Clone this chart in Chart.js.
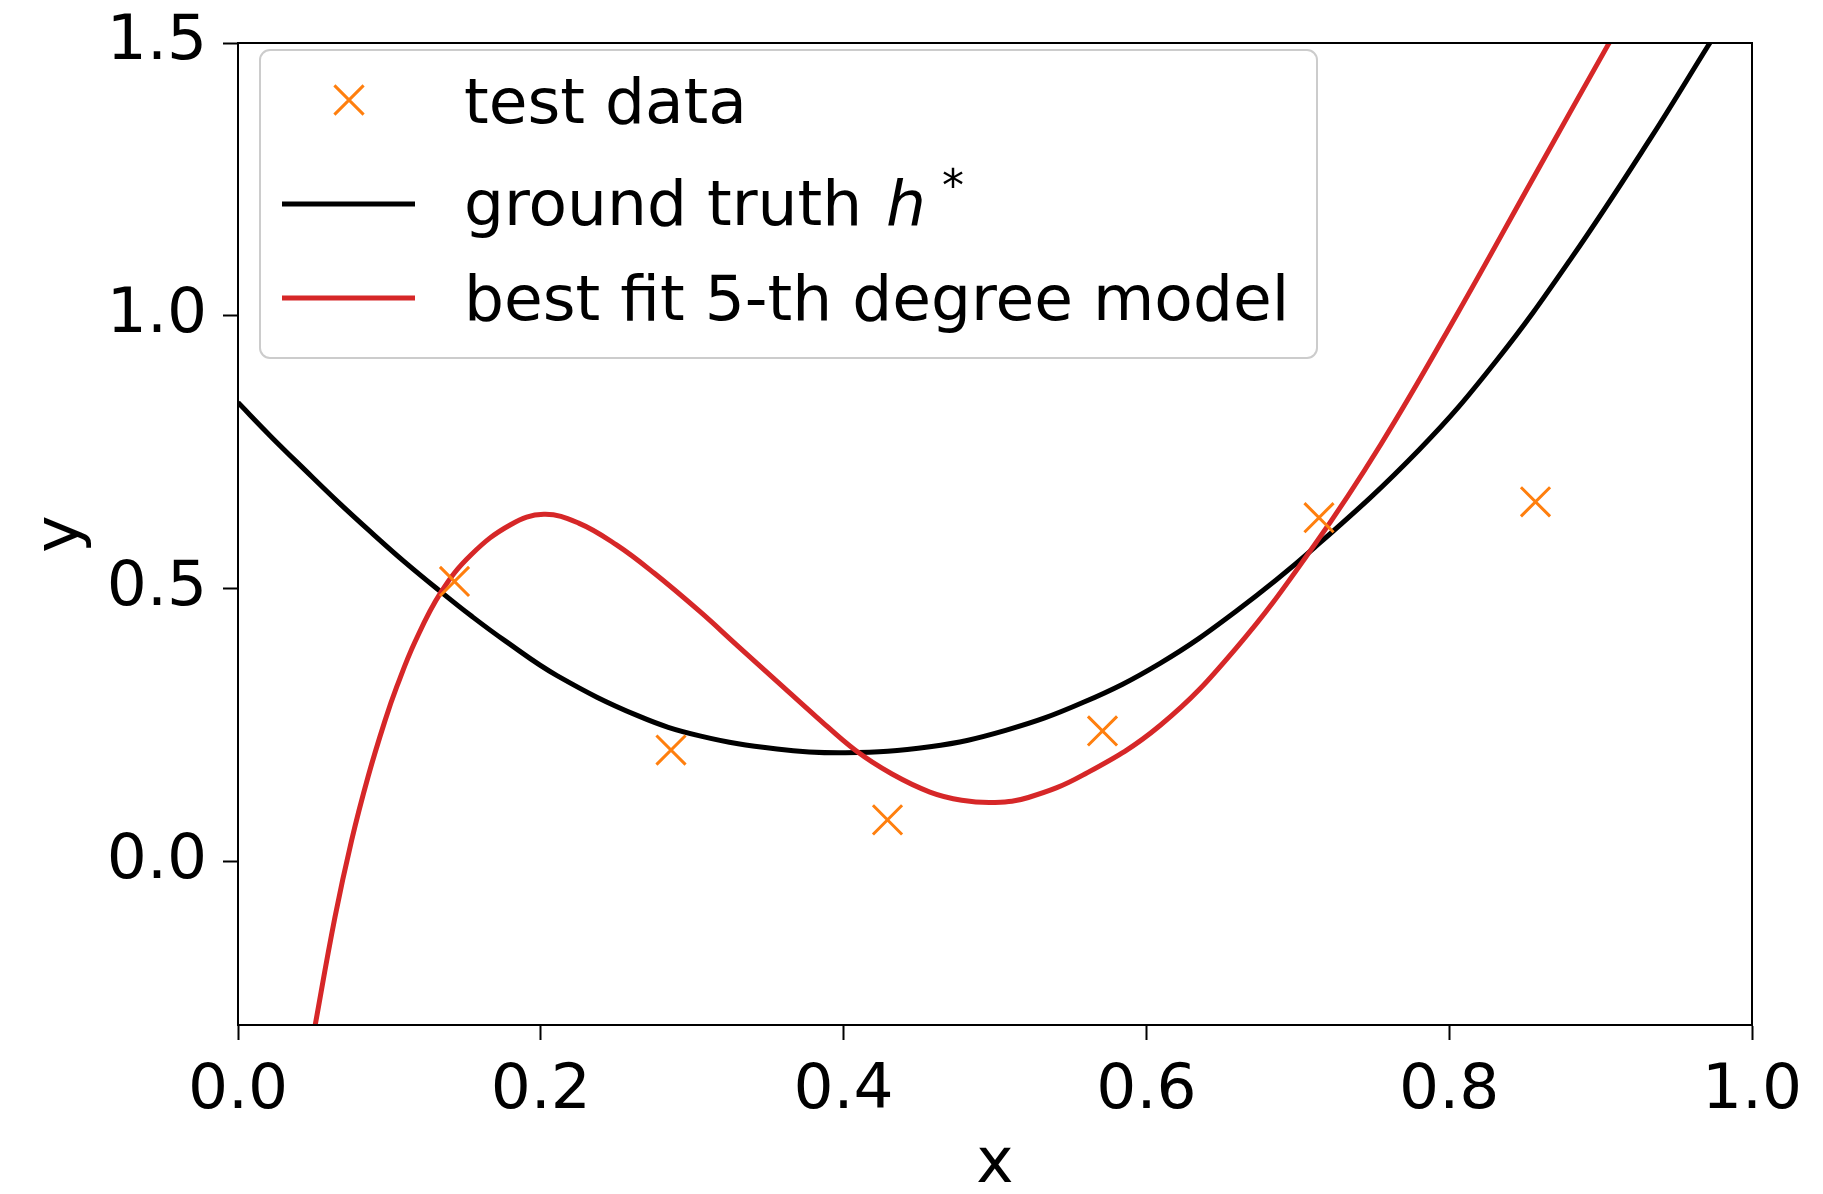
<!DOCTYPE html>
<html lang="en">
<head>
<meta charset="UTF-8">
<title>best fit 5-th degree model</title>
<style>
  body { margin: 0; background: #fff; }
  canvas { display: block; }
</style>
</head>
<body>
<script src="https://cdn.jsdelivr.net/npm/chart.js@4.4.0/dist/chart.umd.min.js"></script>
<canvas id="fit-chart" width="1823" height="1194"></canvas>
<script>
// test data (orange x markers)
const testX = [0.143, 0.286, 0.429, 0.571, 0.714, 0.857];
const testY = [0.513, 0.204, 0.076, 0.239, 0.630, 0.659];

// ground truth h* (black)
const truthX = [0.000, 0.022, 0.044, 0.066, 0.088, 0.110, 0.134, 0.154, 0.176, 0.211,
                0.264, 0.305, 0.356, 0.401, 0.457, 0.507, 0.558, 0.609, 0.659, 0.711,
                0.780, 0.831, 0.881, 0.932, 0.971, 0.980];
const truthY = [0.841, 0.778, 0.718, 0.659, 0.603, 0.549, 0.494, 0.450, 0.405, 0.340,
                0.267, 0.230, 0.206, 0.199, 0.210, 0.240, 0.291, 0.363, 0.458, 0.575,
                0.754, 0.917, 1.107, 1.321, 1.495, 1.535];

// best fit 5-th degree model (red)
const fitX = [0.045, 0.051, 0.064, 0.075, 0.086, 0.097, 0.105, 0.117, 0.134, 0.154,
              0.180, 0.202, 0.225, 0.250, 0.275, 0.305, 0.330, 0.356, 0.382, 0.408,
              0.432, 0.457, 0.478, 0.500, 0.522, 0.558, 0.609, 0.659, 0.711, 0.755,
              0.805, 0.856, 0.905, 0.915];
const fitY = [-0.395, -0.300, -0.103, 0.038, 0.156, 0.257, 0.321, 0.403, 0.493, 0.562,
              0.617, 0.636, 0.620, 0.580, 0.528, 0.458, 0.395, 0.330, 0.265, 0.203,
              0.160, 0.127, 0.112, 0.108, 0.117, 0.158, 0.249, 0.390, 0.580, 0.765,
              1.002, 1.255, 1.497, 1.545];

const xTicks = [0.0, 0.2, 0.4, 0.6, 0.8, 1.0];
const yTicks = [0.0, 0.5, 1.0, 1.5];

const FONT = '"DejaVu Sans"';
const FS = 63;

function toPoints(xs, ys) {
    return xs.map((x, i) => ({x: x, y: ys[i]}));
}

// top/right spines like a matplotlib box
const framePlugin = {
    id: 'frame',
    afterDatasetsDraw(chart) {
        const {ctx, chartArea: a} = chart;
        ctx.save();
        ctx.strokeStyle = '#000';
        ctx.lineWidth = 2;
        ctx.strokeRect(a.left, a.top, a.right - a.left, a.bottom - a.top);
        ctx.restore();
    }
};

// legend box in the upper left, with the italic h and superscript *
const legendPlugin = {
    id: 'boxLegend',
    afterDraw(chart) {
        const ctx = chart.ctx;
        const x0 = 260, y0 = 50, w = 1057, h = 308;
        ctx.save();
        ctx.beginPath();
        ctx.roundRect(x0, y0, w, h, 10);
        ctx.fillStyle = 'rgba(255,255,255,0.8)';
        ctx.fill();
        ctx.strokeStyle = '#cccccc';
        ctx.lineWidth = 2;
        ctx.stroke();

        // marker entry
        const mx = 349, my = 100, r = 14.6;
        ctx.strokeStyle = '#ff7f0e';
        ctx.lineWidth = 3;
        ctx.beginPath();
        ctx.moveTo(mx - r, my - r); ctx.lineTo(mx + r, my + r);
        ctx.moveTo(mx - r, my + r); ctx.lineTo(mx + r, my - r);
        ctx.stroke();

        // line entries
        ctx.lineWidth = 5;
        ctx.strokeStyle = '#000000';
        ctx.beginPath(); ctx.moveTo(282, 204); ctx.lineTo(415, 204); ctx.stroke();
        ctx.strokeStyle = '#d62728';
        ctx.beginPath(); ctx.moveTo(282, 298); ctx.lineTo(415, 298); ctx.stroke();

        ctx.fillStyle = '#000';
        ctx.textBaseline = 'alphabetic';
        ctx.textAlign = 'left';
        ctx.font = FS + 'px ' + FONT;
        ctx.fillText('test data', 464, 123);
        const lead = 'ground truth ';
        ctx.fillText(lead, 464, 225);
        let hx = 464 + ctx.measureText(lead).width + 4;
        ctx.font = 'italic ' + FS + 'px ' + FONT;
        ctx.fillText('h', hx, 225);
        hx += ctx.measureText('h').width + 16;
        ctx.font = Math.round(FS * 0.7) + 'px ' + FONT;
        ctx.fillText('*', hx, 201);
        ctx.font = FS + 'px ' + FONT;
        ctx.fillText('best fit 5-th degree model', 464, 320);
        ctx.restore();
    }
};

new Chart(document.getElementById('fit-chart'), {
    type: 'scatter',
    data: {
        datasets: [
            {
                label: 'test data',
                data: toPoints(testX, testY),
                pointStyle: 'crossRot',
                pointRadius: 20.6,
                pointBorderWidth: 3,
                borderColor: '#ff7f0e',
                backgroundColor: '#ff7f0e',
                showLine: false,
                order: 0
            },
            {
                label: 'ground truth h*',
                data: toPoints(truthX, truthY),
                showLine: true,
                pointRadius: 0,
                borderColor: '#000000',
                borderWidth: 5,
                tension: 0.4,
                clip: 0,
                order: 2
            },
            {
                label: 'best fit 5-th degree model',
                data: toPoints(fitX, fitY),
                showLine: true,
                pointRadius: 0,
                borderColor: '#d62728',
                borderWidth: 5,
                tension: 0.4,
                clip: 0,
                order: 1
            }
        ]
    },
    options: {
        responsive: false,
        animation: false,
        devicePixelRatio: 1,
        layout: {padding: {top: 43, right: 71, left: 0, bottom: 0}},
        plugins: {legend: {display: false}, tooltip: {enabled: false}},
        scales: {
            x: {
                type: 'linear',
                min: 0, max: 1,
                afterBuildTicks: s => { s.ticks = xTicks.map(v => ({value: v})); },
                afterFit: s => { s.height = 169; s.paddingLeft = 0; s.paddingRight = 0; },
                ticks: {
                    callback: v => v.toFixed(1),
                    font: {family: FONT, size: FS},
                    color: '#000',
                    padding: 14,
                    maxRotation: 0,
                    autoSkip: false
                },
                grid: {drawOnChartArea: false, drawTicks: true, tickLength: 15, tickWidth: 2, tickColor: '#000'},
                border: {display: true, color: '#000', width: 2},
                title: {display: true, text: 'x', color: '#000', font: {family: FONT, size: FS}, padding: {top: 0, bottom: -9}}
            },
            y: {
                type: 'linear',
                min: -0.3, max: 1.5,
                afterBuildTicks: s => { s.ticks = yTicks.map(v => ({value: v})); },
                afterFit: s => { s.width = 238; s.paddingTop = 0; s.paddingBottom = 0; },
                ticks: {
                    callback: v => v.toFixed(1),
                    font: {family: FONT, size: FS},
                    color: '#000',
                    padding: 16,
                    autoSkip: false
                },
                grid: {drawOnChartArea: false, drawTicks: true, tickLength: 15, tickWidth: 2, tickColor: '#000'},
                border: {display: true, color: '#000', width: 2},
                title: {display: true, text: 'y', color: '#000', font: {family: FONT, size: FS}, padding: {top: 24, bottom: 0}}
            }
        }
    },
    plugins: [framePlugin, legendPlugin]
});
</script>
</body>
</html>
